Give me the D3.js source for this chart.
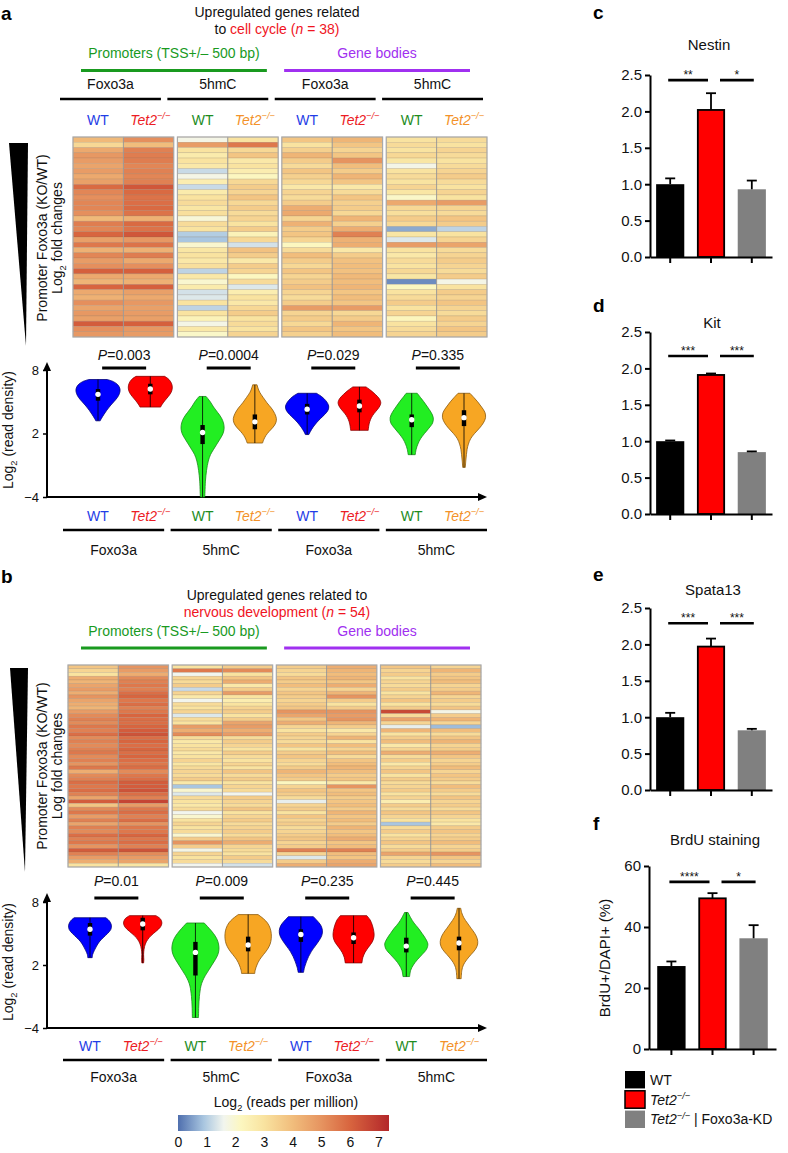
<!DOCTYPE html>
<html><head><meta charset="utf-8">
<script src="https://cdn.jsdelivr.net/npm/d3@7"></script>
<style>
body{margin:0;background:#fff}
svg{display:block}
text{font-family:"Liberation Sans",Arial,Helvetica,sans-serif}
</style>
</head><body>
<svg id="fig" width="788" height="1153"></svg>
<script>
// ================= DATA =================
const sampleNames = ["WT","Tet2","WT","Tet2","WT","Tet2","WT","Tet2"];
const groupNames = ["Foxo3a","5hmC","Foxo3a","5hmC"];
const regionNames = ["Promoters (TSS+/– 500 bp)","Gene bodies"];

// heatmap a: upregulated genes related to cell cycle (n = 38), log2 reads per million
const aPromFoxoWT = [4.1,3.3,4.5,4.9,4.8,4.6,4.8,4.5,4.7,5.9,5.3,5.1,5.3,5.3,5.1,4.1,5.5,5.3,6.0,4.7,5.6,4.3,5.3,4.8,5.1,6.1,4.5,4.2,6.0,4.5,4.3,5.1,4.6,4.9,4.7,6.2,5.1,4.9];
const aPromFoxoKO = [5.1,4.0,5.4,5.5,5.5,5.3,5.4,5.3,5.4,6.3,5.9,5.7,5.8,5.9,5.7,4.3,5.9,5.7,6.3,4.9,5.7,4.3,5.5,4.5,5.1,6.1,4.5,4.3,6.1,4.7,4.5,4.9,4.7,4.8,4.7,6.1,4.9,4.8];
const aProm5hmcWT = [1.7,4.8,3.0,2.7,3.0,2.8,1.2,1.7,2.6,1.2,2.7,3.0,3.2,2.9,3.1,1.9,3.2,3.0,1.0,0.9,2.0,2.9,3.0,2.8,3.1,1.1,2.8,2.0,2.7,1.3,1.4,3.0,1.1,3.0,2.4,1.7,2.8,2.1];
const aProm5hmcKO = [3.0,5.6,3.3,3.8,2.8,3.0,2.6,2.2,3.3,3.6,3.4,3.8,3.3,3.6,3.2,3.4,3.0,3.6,2.4,3.3,1.3,3.9,3.6,2.8,3.6,3.4,2.2,3.2,1.4,2.6,3.0,2.8,3.3,3.6,3.0,3.2,3.0,3.4];
const aBodyFoxoWT = [3.8,3.0,3.5,4.2,3.6,3.2,3.8,3.5,3.3,2.8,3.4,3.2,3.6,4.4,4.5,3.4,4.3,3.6,3.8,3.4,2.2,3.2,4.0,3.6,3.3,3.8,3.4,3.6,3.9,3.4,3.2,3.6,4.8,3.4,3.6,3.3,3.8,3.5];
const aBodyFoxoKO = [4.2,3.8,3.4,3.8,5.0,4.0,3.6,4.2,3.8,2.8,3.2,3.8,3.5,3.6,3.3,4.2,3.5,4.4,5.4,4.3,4.4,2.8,3.6,3.9,4.0,3.9,4.1,4.0,4.2,3.8,4.0,3.8,4.8,3.3,3.6,4.2,3.8,4.0];
const aBody5hmcWT = [3.0,3.2,3.0,3.3,2.9,1.7,3.0,3.2,3.0,3.4,2.9,2.1,4.5,3.3,3.1,3.6,3.3,0.6,2.9,1.4,4.8,3.0,2.8,3.2,3.0,3.3,2.9,0.3,2.2,3.0,3.2,3.6,3.0,3.4,2.3,3.0,3.2,3.4];
const aBody5hmcKO = [3.2,3.0,3.4,3.2,3.0,3.2,3.4,3.6,3.2,3.0,3.4,3.0,4.8,3.4,3.2,3.8,3.6,1.1,3.0,3.4,4.6,3.2,3.4,3.6,3.4,3.2,3.6,1.7,3.0,3.6,3.4,3.8,3.4,3.2,3.6,3.4,3.8,3.6];

// heatmap b: upregulated genes related to nervous development (n = 54)
const bPromFoxoWT = [3.8,3.4,3.0,4.4,4.2,4.6,4.8,4.4,5.0,4.6,4.4,4.2,4.8,5.2,5.4,5.2,5.6,5.4,5.8,5.2,5.4,5.2,5.4,5.6,5.2,5.4,5.0,5.6,4.4,5.2,5.4,5.8,5.6,5.8,5.4,4.6,6.2,3.8,5.2,5.6,4.8,5.4,4.6,5.4,5.2,5.8,5.4,5.6,5.0,6.2,5.4,4.8,4.4,3.0];
const bPromFoxoKO = [5.0,4.8,4.4,5.2,5.4,5.6,5.4,5.8,6.0,5.6,5.8,5.4,5.6,6.0,5.8,5.8,6.0,6.2,6.4,5.8,6.0,5.8,6.0,5.8,6.0,5.8,5.6,5.8,5.2,5.6,5.8,6.2,6.2,6.4,5.8,5.4,6.7,4.8,5.6,5.8,5.4,5.8,5.0,5.6,5.6,6.0,5.6,5.8,5.4,6.4,5.2,4.8,4.6,2.9];
const bProm5hmcWT = [3.0,5.6,1.6,3.4,3.2,3.6,1.2,3.4,2.8,1.6,3.2,3.0,3.4,1.4,3.2,3.0,4.8,4.4,5.2,3.2,2.8,3.0,3.2,2.8,3.0,3.4,2.9,3.2,3.4,3.2,3.6,2.8,0.9,2.0,1.4,3.2,3.0,2.8,3.2,1.6,2.0,3.0,3.4,3.0,3.2,2.0,3.6,5.0,3.6,1.7,3.4,3.0,3.2,1.6];
const bProm5hmcKO = [3.6,5.2,3.0,3.8,4.4,2.8,3.6,4.8,3.0,2.6,3.0,3.4,3.6,3.0,3.6,4.6,4.8,4.4,4.8,3.2,3.6,3.4,3.0,3.6,3.2,3.0,3.4,3.0,3.8,3.2,3.6,3.0,3.4,3.2,1.6,3.6,3.4,3.2,3.8,3.0,3.4,3.6,3.2,3.4,3.6,3.2,3.8,4.4,3.4,3.2,3.0,3.6,3.2,1.3];
const bBodyFoxoWT = [3.6,3.4,3.2,3.8,3.6,4.0,3.4,3.8,3.6,3.4,3.6,3.8,5.0,4.6,3.8,4.4,3.4,3.0,3.6,3.4,3.2,3.8,3.0,3.6,3.8,3.4,3.2,3.6,4.2,3.8,3.6,2.2,3.4,3.8,3.6,3.2,1.5,3.4,3.6,3.0,3.8,3.4,3.6,3.2,3.4,3.6,3.8,3.4,3.6,5.4,3.4,1.4,3.6,4.4];
const bBodyFoxoKO = [4.4,4.2,4.0,4.2,3.8,4.4,3.4,4.2,5.0,3.6,3.0,3.6,5.0,4.8,5.0,4.2,3.6,2.8,3.4,4.2,3.0,4.0,3.4,4.0,3.2,3.8,4.0,4.2,4.0,3.6,3.8,2.8,5.0,3.8,4.0,3.6,3.8,4.0,3.6,4.2,3.8,4.0,3.6,4.2,3.8,4.0,4.4,3.8,4.0,5.4,4.0,3.8,4.4,4.6];
const bBody5hmcWT = [3.8,3.4,3.6,3.0,3.4,3.2,3.6,3.0,3.4,3.8,3.0,3.6,6.6,3.2,4.6,3.4,1.5,4.2,3.0,3.6,4.0,2.8,3.4,4.4,3.2,3.6,2.8,3.4,3.8,3.0,3.6,3.2,3.4,3.6,3.0,3.4,2.6,3.6,3.2,3.8,3.4,3.0,0.9,3.2,3.6,3.0,3.4,3.8,3.2,3.6,4.6,3.4,3.2,3.6];
const bBody5hmcKO = [3.4,4.2,3.6,3.8,4.0,3.4,3.6,4.2,3.4,3.6,3.2,3.8,1.7,3.6,4.2,3.4,0.8,4.0,3.2,3.8,4.2,3.4,3.6,4.4,3.8,3.4,3.6,4.0,3.4,3.8,3.6,3.2,4.0,3.6,3.2,3.8,3.4,3.6,3.2,3.8,3.4,3.0,2.8,3.6,3.8,3.4,3.6,4.0,3.4,3.6,5.0,3.8,3.4,4.0];

// violin density profiles: [log2 read density, relative half-width]
const violinsA = [
  [[7.1,0.42],[6.9,0.7],[6.6,0.9],[6.2,1.0],[5.8,0.98],[5.4,0.88],[5.0,0.72],[4.6,0.55],[4.2,0.4],[3.8,0.27],[3.4,0.15],[3.2,0.1]],
  [[7.4,0.65],[7.1,0.85],[6.7,0.97],[6.3,1.0],[5.9,0.95],[5.5,0.82],[5.1,0.66],[4.7,0.52],[4.5,0.47]],
  [[5.5,0.16],[5.0,0.35],[4.5,0.5],[4.0,0.68],[3.5,0.85],[3.0,0.95],[2.5,0.98],[2.0,0.93],[1.5,0.8],[1.0,0.65],[0.5,0.5],[0,0.36],[-0.6,0.26],[-1.5,0.18],[-2.5,0.13],[-3.5,0.11],[-4,0.1]],
  [[6.6,0.1],[6.3,0.14],[5.9,0.22],[5.4,0.38],[4.9,0.55],[4.4,0.75],[3.9,0.9],[3.4,0.98],[3.0,0.95],[2.6,0.83],[2.2,0.65],[1.8,0.5],[1.4,0.4],[1.1,0.35]],
  [[5.8,0.42],[5.5,0.65],[5.1,0.85],[4.6,0.98],[4.2,0.95],[3.8,0.8],[3.4,0.6],[3.0,0.42],[2.6,0.27],[2.2,0.15],[1.9,0.08]],
  [[6.4,0.3],[6.1,0.5],[5.7,0.72],[5.3,0.9],[4.9,0.97],[4.5,0.9],[4.1,0.75],[3.7,0.6],[3.3,0.5],[2.9,0.44],[2.5,0.41],[2.3,0.4]],
  [[5.8,0.25],[5.4,0.4],[5.0,0.55],[4.5,0.72],[4.0,0.88],[3.5,0.98],[3.0,0.95],[2.5,0.78],[2.0,0.58],[1.5,0.4],[1.0,0.28],[0.5,0.2],[0,0.16]],
  [[5.8,0.27],[5.4,0.45],[5.0,0.62],[4.5,0.8],[4.0,0.95],[3.5,0.98],[3.0,0.88],[2.5,0.7],[2.0,0.48],[1.5,0.3],[1.0,0.2],[0.5,0.14],[0,0.11],[-0.6,0.08],[-1.2,0.06]]
];
const violinsB = [
  [[6.5,0.72],[6.2,0.88],[5.8,0.97],[5.4,0.95],[5.0,0.8],[4.6,0.6],[4.2,0.42],[3.8,0.3],[3.4,0.2],[3.0,0.12],[2.7,0.1]],
  [[6.7,0.6],[6.4,0.8],[6.0,0.87],[5.6,0.8],[5.2,0.6],[4.8,0.38],[4.4,0.22],[4.0,0.12],[3.5,0.06],[3.0,0.04],[2.5,0.05],[2.2,0.04]],
  [[6.0,0.4],[5.5,0.62],[5.0,0.82],[4.5,0.97],[4.0,1.05],[3.5,1.07],[3.0,1.02],[2.5,0.9],[2.0,0.75],[1.5,0.6],[1.0,0.45],[0.5,0.33],[0,0.25],[-1,0.18],[-2,0.15],[-3,0.14]],
  [[6.8,0.45],[6.4,0.7],[6.0,0.88],[5.5,1.0],[5.0,1.05],[4.5,1.05],[4.0,1.0],[3.5,0.88],[3.0,0.7],[2.5,0.52],[2.0,0.4],[1.5,0.32],[1.2,0.3]],
  [[6.6,0.57],[6.2,0.75],[5.8,0.9],[5.3,0.98],[4.8,0.95],[4.3,0.82],[3.8,0.65],[3.3,0.48],[2.8,0.35],[2.3,0.25],[1.8,0.17],[1.3,0.12]],
  [[6.7,0.6],[6.3,0.75],[5.8,0.85],[5.2,0.92],[4.7,0.93],[4.2,0.85],[3.7,0.68],[3.2,0.52],[2.7,0.42],[2.2,0.38]],
  [[7.0,0.08],[6.5,0.2],[6.0,0.35],[5.5,0.55],[5.0,0.72],[4.5,0.88],[4.0,0.98],[3.5,0.92],[3.0,0.72],[2.5,0.5],[2.0,0.32],[1.5,0.2],[0.9,0.15]],
  [[7.4,0.08],[7.0,0.12],[6.5,0.22],[6.0,0.38],[5.5,0.55],[5.0,0.72],[4.5,0.83],[4.0,0.85],[3.5,0.75],[3.0,0.55],[2.5,0.35],[2.0,0.2],[1.5,0.13],[0.7,0.1]]
];
// box stats: [median, q1, q3]
const boxesA = [[5.7,5.1,6.2],[6.2,5.7,6.7],[2.1,1.0,2.8],[3.1,2.4,3.8],[4.3,3.8,4.8],[4.6,4.0,5.2],[3.3,2.6,3.8],[3.5,2.7,4.2]];
const boxesB = [[5.4,4.8,6.0],[5.9,5.3,6.5],[3.2,1.0,4.2],[3.9,3.3,4.7],[4.9,4.2,5.4],[4.6,4.0,5.1],[3.8,3.2,4.6],[4.1,3.4,4.7]];
const pValuesA = ["0.003","0.0004","0.029","0.335"];
const pValuesB = ["0.01","0.009","0.235","0.445"];
const violinTicks = [8, 2, -4];

// colour scale of the heatmaps
const heatStops  = [0, 0.9, 1.6, 2.2, 3.0, 4.0, 5.0, 6.0, 7.37];
const heatColors = ["#4f6fae","#a9c6e0","#f2f5ee","#fcf7c0","#f9e3a0","#f1bd7c","#e69460","#d8653f","#b3272a"];
const colorbarTicks = [0,1,2,3,4,5,6,7];

// bar panels c-f
const barGroups = ["WT","Tet2","Tet2 | Foxo3a-KD"];
const nestin    = [1.00, 2.02, 0.93];
const nestinErr = [1.08, 2.25, 1.05];
const kit       = [1.00, 1.91, 0.85];
const kitErr    = [1.01, 1.93, 0.86];
const spata13    = [1.00, 1.97, 0.82];
const spata13Err = [1.06, 2.08, 0.84];
const brdu      = [27.2, 49.4, 36.3];
const brduErr   = [28.7, 51.1, 40.6];
const ratioTicks = [0, 0.5, 1.0, 1.5, 2.0, 2.5];
const brduTicks = [0, 20, 40, 60];
const starsNestin = ["**","*"];
const starsKit = ["***","***"];
const starsSpata = ["***","***"];
const starsBrdu = ["****","*"];

// ================= DRAWING =================
const svg = d3.select("#fig");
const sampleColors = ["#1f3de6","#ec1c24","#1e8c1e","#f3922a","#1f3de6","#ec1c24","#1e8c1e","#f3922a"];
const violinFill   = ["#0000ff","#ff0000","#22ee22","#f7a623","#0000ff","#ff0000","#22ee22","#f7a623"];
const violinStroke = ["#00007a","#8a0000","#168a16","#8a5a10","#00007a","#8a0000","#168a16","#8a5a10"];
const GREEN = "#199a1f", PURPLE = "#a030f0", RED = "#f0141e";
const FONT = '"Liberation Sans",Arial,sans-serif';

function rich(g, x, y, parts, o = {}) {
  const size = o.size || 14;
  const t = g.append("text").attr("x", x).attr("y", y)
    .attr("text-anchor", o.anchor || "middle")
    .attr("font-size", size).attr("fill", o.fill || "#111")
    .attr("font-weight", o.weight || "normal");
  if (o.rotate) t.attr("transform", `rotate(${o.rotate},${x},${y})`);
  let shift = 0;
  parts.forEach(p => {
    if (typeof p === "string") p = {t: p};
    const target = p.sup ? -0.4 * size : p.sub ? 0.28 * size : 0;
    const ts = t.append("tspan").text(p.t).attr("dy", target - shift);
    shift = target;
    if (p.sup || p.sub) ts.attr("font-size", size * 0.66);
    if (p.i) ts.attr("font-style", "italic");
    if (p.fill) ts.attr("fill", p.fill);
  });
  return t;
}
const tet2Parts = [{t:"Tet2", i:true}, {t:"−/−", i:true, sup:true}];
function sampleLabel(g, x, y, i) {
  const parts = sampleNames[i] === "WT" ? ["WT"] : tet2Parts;
  rich(g, x, y, parts, {size: 14, fill: sampleColors[i]});
}

const heatColor = d3.scaleLinear().domain(heatStops).range(heatColors).interpolate(d3.interpolateRgb).clamp(true);

function drawHeatmap(cols, x0, x1, y0, y1) {
  const g = svg.append("g");
  const n = cols[0].length;
  const blockX = d3.scaleBand().domain(d3.range(4)).range([x0, x1]).paddingInner(0.035);
  const rowY = d3.scaleBand().domain(d3.range(n)).range([y0, y1]);
  d3.range(4).forEach(b => {
    const colX = d3.scaleBand().domain([0, 1]).range([blockX(b), blockX(b) + blockX.bandwidth()]);
    [0, 1].forEach(c => {
      g.append("g").selectAll("rect").data(cols[b * 2 + c]).join("rect")
        .attr("x", colX(c)).attr("y", (d, i) => rowY(i))
        .attr("width", colX.bandwidth()).attr("height", rowY.bandwidth())
        .attr("fill", d => heatColor(d))
        .attr("stroke", "rgba(130,110,90,0.35)").attr("stroke-width", 0.5);
    });
    g.append("line").attr("x1", colX(1)).attr("x2", colX(1)).attr("y1", y0).attr("y2", y1)
      .attr("stroke", "#9a9a9a").attr("stroke-width", 0.9);
    g.append("rect").attr("x", blockX(b)).attr("y", y0).attr("width", blockX.bandwidth()).attr("height", y1 - y0)
      .attr("fill", "none").attr("stroke", "#aaaaaa").attr("stroke-width", 1.2);
  });
}

function drawTriangle(xl, xr, yTop, xTip, yTip) {
  svg.append("path").attr("d", `M${xl},${yTop}L${xr},${yTop}L${xTip},${yTip}Z`).attr("fill", "#000");
}

function drawHeader(yTitle1, title1, title2Parts, yRegion, yRegionLine) {
  const g = svg.append("g");
  rich(g, 277, yTitle1, title1, {size: 14});
  rich(g, 277, yTitle1 + 17, title2Parts, {size: 14});
  const regX = d3.scaleBand().domain([0, 1]).range([81, 470]).paddingInner(0.085);
  [GREEN, PURPLE].forEach((col, i) => {
    rich(g, regX(i) + regX.bandwidth() / 2, yRegion, [regionNames[i]], {size: 14, fill: col});
    g.append("line").attr("x1", regX(i)).attr("x2", regX(i) + regX.bandwidth())
      .attr("y1", yRegionLine).attr("y2", yRegionLine).attr("stroke", col).attr("stroke-width", 3);
  });
}

function groupLines(g, x0, x1, yLine, yText) {
  const gx = d3.scaleBand().domain(d3.range(4)).range([x0, x1]).paddingInner(0.06);
  groupNames.forEach((nm, i) => {
    g.append("line").attr("x1", gx(i)).attr("x2", gx(i) + gx.bandwidth())
      .attr("y1", yLine).attr("y2", yLine).attr("stroke", "#000").attr("stroke-width", 2.6);
    rich(g, gx(i) + gx.bandwidth() / 2, yText, [nm], {size: 14});
  });
}

function drawViolinPanel(profiles, boxes, pvals, yScale, xPos, arrowTop, pY, pBarY) {
  const g = svg.append("g");
  const axX = 47, x0 = yScale(-4);
  g.append("line").attr("x1", axX).attr("x2", axX).attr("y1", x0 + 1).attr("y2", arrowTop + 6).attr("stroke", "#000").attr("stroke-width", 2);
  g.append("path").attr("d", `M${axX - 4},${arrowTop + 9}L${axX},${arrowTop}L${axX + 4},${arrowTop + 9}Z`).attr("fill", "#000");
  g.append("line").attr("x1", axX - 1).attr("x2", 481).attr("y1", x0).attr("y2", x0).attr("stroke", "#000").attr("stroke-width", 2);
  g.append("path").attr("d", `M478,${x0 - 4}L487,${x0}L478,${x0 + 4}Z`).attr("fill", "#000");
  const ax = g.append("g").attr("transform", `translate(${axX},0)`)
    .call(d3.axisLeft(yScale).tickValues(violinTicks).tickSize(4).tickPadding(4));
  ax.select(".domain").remove();
  ax.selectAll(".tick line").attr("stroke", "#000").attr("stroke-width", 1.5);
  ax.selectAll(".tick text").attr("font-size", 13).attr("fill", "#111").attr("font-family", FONT);
  const w = d3.scaleLinear().domain([0, 1]).range([0, 22]);
  profiles.forEach((prof, i) => {
    const cx = xPos(i);
    const area = d3.area().y(d => yScale(d[0])).x0(d => cx - w(d[1])).x1(d => cx + w(d[1]))
      .curve(d3.curveCatmullRom.alpha(0.5));
    g.append("path").attr("d", area(prof)).attr("fill", violinFill[i])
      .attr("stroke", violinStroke[i]).attr("stroke-width", 0.8);
    g.append("line").attr("x1", cx).attr("x2", cx)
      .attr("y1", yScale(prof[0][0])).attr("y2", yScale(prof[prof.length - 1][0]))
      .attr("stroke", "#000").attr("stroke-width", 0.8);
    const [med, q1, q3] = boxes[i];
    g.append("rect").attr("x", cx - 2.2).attr("width", 4.4).attr("y", yScale(q3))
      .attr("height", yScale(q1) - yScale(q3)).attr("fill", "#000");
    g.append("circle").attr("cx", cx).attr("cy", yScale(med)).attr("r", 2.7).attr("fill", "#fff");
  });
  d3.range(4).forEach(k => {
    const xa = xPos(2 * k), xb = xPos(2 * k + 1);
    const mid = (xa + xb) / 2;
    rich(g, mid, pY, [{t: "P", i: true}, "=" + pvals[k]], {size: 14});
    g.append("line").attr("x1", mid - 22).attr("x2", mid + 22).attr("y1", pBarY).attr("y2", pBarY)
      .attr("stroke", "#000").attr("stroke-width", 3);
  });
  return g;
}

// ---------- panel a ----------
rich(svg, 1, 20, ["a"], {size: 19, weight: "bold", anchor: "start", fill: "#000"});
drawHeader(17, ["Upregulated genes related"],
  ["to ", {t: "cell cycle (", fill: RED}, {t: "n", i: true, fill: RED}, {t: " = 38)", fill: RED}], 58, 70.5);
const gA = svg.append("g");
groupLines(gA, 60, 483, 99, 89);
const xA = d3.scalePoint().domain(d3.range(8)).range([98, 464]);
d3.range(8).forEach(i => sampleLabel(gA, xA(i), 125, i));
drawHeatmap([aPromFoxoWT, aPromFoxoKO, aProm5hmcWT, aProm5hmcKO, aBodyFoxoWT, aBodyFoxoKO, aBody5hmcWT, aBody5hmcKO], 73, 487, 137, 337);
drawTriangle(9, 28, 143, 26, 346);
rich(svg, 47, 238, ["Promoter Foxo3a (KO/WT)"], {size: 14, rotate: -90});
rich(svg, 62, 238, ["Log", {t: "2", sub: true}, " fold changes"], {size: 14, rotate: -90});
const yA = d3.scaleLinear().domain([-4, 8]).range([497, 370]);
drawViolinPanel(violinsA, boxesA, pValuesA, yA, xA, 362, 360, 368);
rich(svg, 13, 430, ["Log", {t: "2", sub: true}, " (read density)"], {size: 14, rotate: -90});
d3.range(8).forEach(i => sampleLabel(gA, xA(i), 521, i));
groupLines(gA, 63, 487, 530, 555);

// ---------- panel b ----------
rich(svg, 1, 583, ["b"], {size: 19, weight: "bold", anchor: "start", fill: "#000"});
drawHeader(600, ["Upregulated genes related to"],
  [{t: "nervous development (", fill: RED}, {t: "n", i: true, fill: RED}, {t: " = 54)", fill: RED}], 636, 648);
drawHeatmap([bPromFoxoWT, bPromFoxoKO, bProm5hmcWT, bProm5hmcKO, bBodyFoxoWT, bBodyFoxoKO, bBody5hmcWT, bBody5hmcKO], 68, 481, 665, 867);
drawTriangle(10, 28, 668, 25, 872);
rich(svg, 47, 766, ["Promoter Foxo3a (KO/WT)"], {size: 14, rotate: -90});
rich(svg, 62, 766, ["Log fold changes"], {size: 14, rotate: -90});
const xB = d3.scalePoint().domain(d3.range(8)).range([90, 459]);
const yB = d3.scaleLinear().domain([-4, 8]).range([1028, 902]);
drawViolinPanel(violinsB, boxesB, pValuesB, yB, xB, 893, 886, 898);
rich(svg, 13, 962, ["Log", {t: "2", sub: true}, " (read density)"], {size: 14, rotate: -90});
const gB = svg.append("g");
d3.range(8).forEach(i => sampleLabel(gB, xB(i), 1051, i));
groupLines(gB, 63, 487, 1060, 1082);

// ---------- colour bar ----------
const cb = svg.append("g");
const cbScale = d3.scaleLinear().domain([0, 7.37]).range([178, 389]);
const grad = svg.append("defs").append("linearGradient").attr("id", "cbgrad");
heatStops.forEach((s, i) => grad.append("stop").attr("offset", s / 7.37).attr("stop-color", heatColors[i]));
cb.append("rect").attr("x", cbScale(0)).attr("y", 1115).attr("width", cbScale(7.37) - cbScale(0)).attr("height", 16)
  .attr("fill", "url(#cbgrad)");
rich(cb, 286, 1107, ["Log", {t: "2", sub: true}, " (reads per million)"], {size: 14});
const cbAx = cb.append("g").attr("transform", "translate(0,1134)")
  .call(d3.axisBottom(cbScale).tickValues(colorbarTicks).tickSize(0).tickPadding(3));
cbAx.select(".domain").remove();
cbAx.selectAll("text").attr("font-size", 14).attr("fill", "#111").attr("font-family", FONT);

// ---------- bar panels ----------
const barFill = ["#000000", "#ff0000", "#808080"];
function barPanel(o) {
  const g = svg.append("g");
  const y = d3.scaleLinear().domain([0, o.yMax]).range(o.yRange);
  const x = d3.scaleBand().domain(d3.range(3)).range(o.xRange).paddingInner(0.31).paddingOuter(o.pOuter || 0.15);
  rich(g, 593, o.letterY, [o.letter], {size: 19, weight: "bold", anchor: "start", fill: "#000"});
  rich(g, o.titleX, o.titleY, [o.title], {size: 15});
  g.selectAll("rect.bar").data(o.vals).join("rect").attr("class", "bar")
    .attr("x", (d, i) => x(i) + (i === 1 ? 0.9 : 0)).attr("width", (d, i) => x.bandwidth() - (i === 1 ? 1.8 : 0))
    .attr("y", d => y(d)).attr("height", d => y(0) - y(d))
    .attr("fill", (d, i) => barFill[i])
    .attr("stroke", (d, i) => i === 1 ? "#000" : "none").attr("stroke-width", 1.8);
  o.errs.forEach((e, i) => {
    const cx = x(i) + x.bandwidth() / 2;
    g.append("line").attr("x1", cx).attr("x2", cx).attr("y1", y(o.vals[i])).attr("y2", y(e)).attr("stroke", "#000").attr("stroke-width", 1.8);
    g.append("line").attr("x1", cx - 5).attr("x2", cx + 5).attr("y1", y(e)).attr("y2", y(e)).attr("stroke", "#000").attr("stroke-width", 1.8);
  });
  const ya = g.append("g").attr("transform", `translate(${o.xRange[0]},0)`)
    .call(d3.axisLeft(y).tickValues(o.ticks).tickFormat(o.fmt).tickSize(5).tickSizeOuter(0).tickPadding(3));
  const xa = g.append("g").attr("transform", `translate(0,${y(0)})`)
    .call(d3.axisBottom(x).tickSize(6).tickSizeOuter(0).tickFormat(""));
  [ya, xa].forEach(a => {
    a.select(".domain").attr("stroke", "#000").attr("stroke-width", 2);
    a.selectAll(".tick line").attr("stroke", "#000").attr("stroke-width", 2);
    a.selectAll(".tick text").attr("font-size", 15).attr("fill", "#111").attr("font-family", FONT);
  });
  const c = d3.range(3).map(i => x(i) + x.bandwidth() / 2);
  const sy = y(o.sigY);
  [[c[0] - 2, c[1] - 3], [c[1] + 9, c[2] + 2]].forEach((s, k) => {
    g.append("line").attr("x1", s[0]).attr("x2", s[1]).attr("y1", sy).attr("y2", sy).attr("stroke", "#000").attr("stroke-width", 2.6);
    rich(g, (s[0] + s[1]) / 2, sy - 1, [o.stars[k]], {size: 12});
  });
  return g;
}
const f1 = d3.format(".1f");
barPanel({letter: "c", letterY: 19, title: "Nestin", titleX: 709, titleY: 50, vals: nestin, errs: nestinErr,
  yMax: 2.5, yRange: [257, 75], xRange: [650, 772], ticks: ratioTicks, fmt: f1, sigY: 2.43, stars: starsNestin});
barPanel({letter: "d", letterY: 312, title: "Kit", titleX: 712, titleY: 328, vals: kit, errs: kitErr,
  yMax: 2.5, yRange: [514, 332], xRange: [650, 772], ticks: ratioTicks, fmt: f1, sigY: 2.17, stars: starsKit});
barPanel({letter: "e", letterY: 581, title: "Spata13", titleX: 713, titleY: 595, vals: spata13, errs: spata13Err,
  yMax: 2.5, yRange: [790, 608], xRange: [650, 772], ticks: ratioTicks, fmt: f1, sigY: 2.29, stars: starsSpata});
barPanel({letter: "f", letterY: 830, title: "BrdU staining", titleX: 715, titleY: 845, vals: brdu, errs: brduErr,
  yMax: 60, yRange: [1049, 866], xRange: [649, 776], pOuter: 0.2, ticks: brduTicks, fmt: d3.format("d"), sigY: 54.8, stars: starsBrdu});
rich(svg, 610, 958, ["BrdU+/DAPI+ (%)"], {size: 15, rotate: -90});

// legend
const lg = svg.append("g");
const legY = d3.scaleBand().domain(d3.range(3)).range([1071, 1128]).paddingInner(0.12);
[["WT"], tet2Parts, tet2Parts.concat([" | Foxo3a-KD"])].forEach((parts, i) => {
  lg.append("rect").attr("x", 625).attr("y", legY(i)).attr("width", 20).attr("height", legY.bandwidth())
    .attr("fill", barFill[i]).attr("stroke", i === 1 ? "#000" : "none").attr("stroke-width", 1.5);
  rich(lg, 650, legY(i) + legY.bandwidth() / 2 + 5, parts, {size: 14, anchor: "start"});
});
</script>
</body></html>
